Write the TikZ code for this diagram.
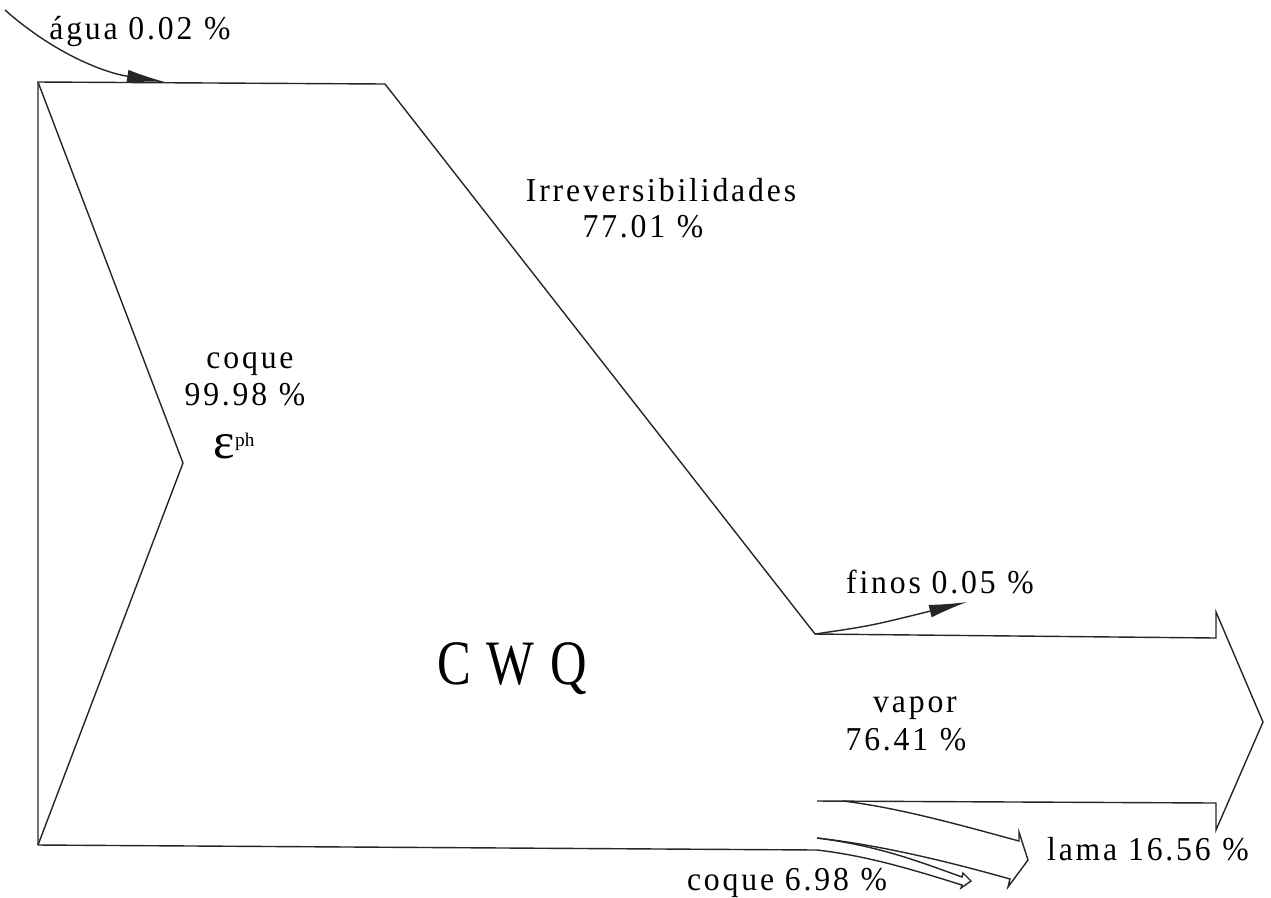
\documentclass[tikz,border=0pt]{standalone}
\usepackage{fontspec}
\setmainfont{Liberation Serif}
\newfontfamily\lblfont[LetterSpace=8.5,FakeStretch=0.95]{Liberation Serif}
\newfontfamily\cwqfont[LetterSpace=25,FakeStretch=0.8]{Liberation Serif}
\usetikzlibrary{arrows.meta}
\newcommand{\pct}{\hspace{0.35em}\%}
\begin{document}
\begin{tikzpicture}[x=0.02cm,y=-0.02cm, line width=0.8pt, line join=miter,
  lab/.style={anchor=base, inner sep=0pt, font=\lblfont\fontsize{19}{22}\selectfont},
  flow/.style={draw=black!85},
  thinarrow/.style={draw=black!85,-{Latex[length=0.76cm,width=0.26cm]}}]
\useasboundingbox (0,0) rectangle (1271,897);
% coordinates
\coordinate (TL) at (38,82);
\coordinate (TR) at (385,84);
\coordinate (F) at (815,634);
\coordinate (V1) at (1216,638);
\coordinate (V2) at (1216,612);
\coordinate (VT) at (1263,722);
\coordinate (V3) at (1216,830);
\coordinate (V4) at (1216,803);
\coordinate (VB) at (817,801);
\coordinate (LU) at (843,801);
\coordinate (LUe) at (1019,841);
\coordinate (LH1) at (1019,832);
\coordinate (LT) at (1028,860);
\coordinate (LH2) at (1008,887);
\coordinate (LLe) at (1010,879);
\coordinate (S) at (817,838);
\coordinate (CUe) at (962,877);
\coordinate (CH1) at (963,873);
\coordinate (CT) at (971,881);
\coordinate (CH2) at (961,888);
\coordinate (CLe) at (962,885);
\coordinate (CB) at (817,850);
\coordinate (BL) at (38,845);
\coordinate (K) at (183,463);
\coordinate (A0) at (5,10);
\coordinate (A1) at (165,82);
\coordinate (FE) at (967,602);
% main outline
\draw[flow] (BL) -- (TL) -- (TR) -- (F) -- (V1) -- (V2) -- (VT) -- (V3) -- (V4) -- (VB);
\draw[flow] (TL) -- (K) -- (BL);
% lama
\draw[flow] (LU) .. controls (900,808) and (960,825) .. (LUe) -- (LH1) -- (LT) -- (LH2) -- (LLe) .. controls (950,862) and (880,845) .. (S);
% coque out
\draw[flow] (S) .. controls (880,846) and (920,862) .. (CUe) -- (CH1) -- (CT) -- (CH2) -- (CLe) .. controls (920,872) and (870,856) .. (CB) -- (BL);
% small arrows
\draw[thinarrow] (A0) .. controls (50,50) and (100,72) .. (A1);
\draw[thinarrow] (F) .. controls (870,626) .. (FE);
% labels
\node[lab] (agua) at (140,39) {água 0.02\pct};
\node[lab] (irr) at (661,201) {Irreversibilidades};
\node[lab] (irrv) at (643,237) {77.01\pct};
\node[lab] (coq) at (250,368) {coque};
\node[lab] (coqv) at (245,405) {99.98\pct};
\node[anchor=base west, inner sep=0pt] (eps) at (213,458) {{\fontsize{29}{30}\selectfont ε}{\fontsize{11}{12}\selectfont\raisebox{0.24cm}{ph}}};
\node[anchor=base, inner sep=0pt, font=\cwqfont\fontsize{36}{40}\selectfont] (cwq) at (512,684) {CWQ};
\node[lab] (fin) at (940,593) {finos 0.05\pct};
\node[lab] (vap) at (915,712) {vapor};
\node[lab] (vapv) at (906,750) {76.41\pct};
\node[lab] (lam) at (1148,860) {lama 16.56\pct};
\node[lab] (coqo) at (787,890) {coque 6.98\pct};
\end{tikzpicture}
\end{document}
